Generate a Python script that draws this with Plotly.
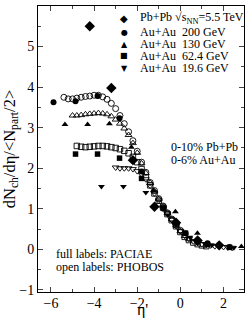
import plotly.graph_objects as go

# ---------------- data ----------------
# PACIAE (full symbols)
pac_pbpb_x = [-4.2, -3.2, -2.2, -1.2, -0.2, 0.8, 1.8]
pac_pbpb_y = [5.5, 3.98, 2.2, 1.05, 0.66, 0.22, 0.1]

pac_200_x = [-5.88, -4.86, -3.84, -2.82, -1.80, -0.78, 0.24, 1.26, 2.28]
pac_200_y = [3.63, 3.65, 3.78, 3.23, 1.92, 1.0, 0.4, 0.15, 0.06]

pac_130_x = [-5.35, -4.30, -3.29, -2.27, -1.25, -0.23, 0.79, 1.81, 2.83]
pac_130_y = [3.08, 3.08, 3.1, 2.52, 1.45, 0.93, 0.4, 0.1, 0.07]

pac_62_x = [-4.86, -3.84, -2.82, -1.80, -0.78, 0.24, 1.26, 2.28]
pac_62_y = [2.35, 2.35, 2.25, 1.75, 1.02, 0.4, 0.12, 0.05]

pac_19_x = [-3.66, -2.64, -1.60, -0.58, 0.44, 1.46, 2.48]
pac_19_y = [1.55, 1.55, 1.4, 0.85, 0.3, 0.1, 0.04]

# PHOBOS (open symbols)
pho_200_x = [-5.4, -5.2, -5.0, -4.8, -4.6, -4.4, -4.2, -4.0, -3.8, -3.6, -3.4, -3.2,
             -3.0, -2.8, -2.6, -2.4, -2.2, -2.0, -1.8, -1.6, -1.4, -1.2, -1.0, -0.8,
             -0.6, -0.4, -0.2, 0.0]
pho_200_y = [3.75, 3.71, 3.71, 3.73, 3.75, 3.77, 3.78, 3.80, 3.80, 3.76, 3.70, 3.60,
             3.47, 3.30, 3.10, 2.90, 2.68, 2.42, 2.15, 1.90, 1.65, 1.45, 1.25, 1.07,
             0.90, 0.75, 0.60, 0.47]

pho_130_x = [-5.0, -4.8, -4.6, -4.4, -4.2, -4.0, -3.8, -3.6, -3.4, -3.2, -3.0, -2.8,
             -2.6, -2.4, -2.2, -2.0, -1.8, -1.6, -1.4, -1.2, -1.0, -0.8, -0.6, -0.4,
             -0.2, 0.0, 0.2, 0.4]
pho_130_y = [3.30, 3.30, 3.31, 3.33, 3.34, 3.35, 3.36, 3.35, 3.33, 3.28, 3.20, 3.10,
             2.98, 2.82, 2.62, 2.38, 2.12, 1.88, 1.64, 1.43, 1.24, 1.06, 0.90, 0.74,
             0.59, 0.45, 0.33, 0.25]

pho_62_x = [-4.8, -4.6, -4.4, -4.2, -4.0, -3.8, -3.6, -3.4, -3.2, -3.0, -2.8, -2.6,
            -2.4, -2.2, -2.0, -1.8, -1.6, -1.4, -1.2, -1.0, -0.8, -0.6, -0.4, -0.2,
            0.0, 0.2, 0.4, 0.6, 0.8, 1.0, 1.2]
pho_62_y = [2.55, 2.53, 2.52, 2.53, 2.54, 2.55, 2.55, 2.54, 2.52, 2.50, 2.47, 2.43,
            2.37, 2.28, 2.15, 1.98, 1.78, 1.58, 1.38, 1.20, 1.03, 0.87, 0.72, 0.57,
            0.43, 0.31, 0.23, 0.17, 0.13, 0.10, 0.08]

pho_19_x = [-3.0, -2.8, -2.6, -2.4, -2.2, -2.0, -1.8, -1.6, -1.4, -1.2, -1.0, -0.8,
            -0.6, -0.4, -0.2, 0.0, 0.2, 0.4, 0.6, 0.8, 1.0, 1.2, 1.4, 1.6, 1.8, 2.0,
            2.2, 2.4]
pho_19_y = [2.02, 2.00, 2.00, 2.00, 1.98, 1.93, 1.85, 1.73, 1.57, 1.38, 1.20, 1.03,
            0.88, 0.73, 0.58, 0.45, 0.34, 0.26, 0.20, 0.16, 0.13, 0.11, 0.10, 0.08,
            0.07, 0.06, 0.05, 0.04]

legend_labels = ["Pb+Pb √s<sub>NN</sub>=5.5 TeV", "Au+Au  200 GeV", "Au+Au  130 GeV",
                 "Au+Au  62.4 GeV", "Au+Au  19.6 GeV"]
legend_glyphs = ["◆", "●", "▲", "■", "▼"]

SERIF = "Liberation Serif"

fig = go.Figure()

def open_trace(x, y, sym, size):
    fig.add_trace(go.Scatter(x=x, y=y, mode="markers", showlegend=False,
                             marker=dict(symbol=sym + "-open", size=size, color="black",
                                         line=dict(width=0.9, color="black"))))

open_trace(pho_200_x, pho_200_y, "circle", 6)
open_trace(pho_130_x, pho_130_y, "triangle-up", 6)
open_trace(pho_62_x, pho_62_y, "square", 5.5)
open_trace(pho_19_x, pho_19_y, "triangle-down", 6)

full = [(pac_pbpb_x, pac_pbpb_y, "diamond", 8),
        (pac_200_x, pac_200_y, "circle", 6),
        (pac_130_x, pac_130_y, "triangle-up", 6),
        (pac_62_x, pac_62_y, "square", 5.5),
        (pac_19_x, pac_19_y, "triangle-down", 6)]
for (x, y, sym, size), lab in zip(full, legend_labels):
    fig.add_trace(go.Scatter(x=x, y=y, mode="markers", name=lab, showlegend=False,
                             marker=dict(symbol=sym, size=size, color="black",
                                         line=dict(width=0))))

fig.update_layout(
    width=249, height=318,
    margin=dict(l=38, r=5, t=6, b=26, autoexpand=False),
    paper_bgcolor="white", plot_bgcolor="white",
    font=dict(family=SERIF, size=12, color="black"),
    showlegend=False,
    xaxis=dict(range=[-6.6, 2.95], dtick=2, tick0=0, ticks="inside", ticklen=5,
               showline=True, linecolor="black", linewidth=1, mirror="allticks",
               showgrid=False, zeroline=False, tickfont=dict(size=14),
               ticklabelstandoff=-2,
               minor=dict(dtick=1, ticks="inside", ticklen=3, showgrid=False)),
    yaxis=dict(range=[-1.05, 6], dtick=1, tick0=0, ticks="inside", ticklen=5,
               showline=True, linecolor="black", linewidth=1, mirror="allticks",
               showgrid=False, zeroline=False, tickfont=dict(size=14),
               minor=dict(dtick=0.5, ticks="inside", ticklen=3, showgrid=False),
               title=dict(text="dN<sub>ch</sub>/dη/<N<sub>part</sub>/2>",
                          font=dict(size=16.5), standoff=1)),
)

# pixel positions (from picture's top-left) of text items
L, R, T, B = 38, 249 - 5, 6, 318 - 26

def px_ann(x, y, text, xanchor="left", size=12, family=SERIF, yanchor="middle"):
    fig.add_annotation(x=(x - L) / (R - L), y=(B - y) / (B - T), xref="paper", yref="paper",
                       text=text, showarrow=False, xanchor=xanchor, yanchor=yanchor,
                       font=dict(size=size, family=family), borderpad=0)

# legend (glyph + label per row)
row_y = [18, 32, 44, 56, 68]
glyph_sizes = [10, 8, 8, 8, 8]
for g, lab, yy, gs in zip(legend_glyphs, legend_labels, row_y, glyph_sizes):
    px_ann(124, yy, g, xanchor="center", size=gs, family="DejaVu Sans")
    px_ann(139, yy, lab, size=12)

px_ann(170, 147, "0-10% Pb+Pb")
px_ann(170, 160, "0-6% Au+Au")
px_ann(55, 254, "full labels: PACIAE")
px_ann(55, 267, "open labels: PHOBOS")
px_ann(142, 320, "η'", xanchor="center", size=16, yanchor="bottom")

fig.write_html("out.html",
               config={"displayModeBar": False},
               post_script="document.body.style.margin='0px';"
                           "document.body.style.padding='0px';")
